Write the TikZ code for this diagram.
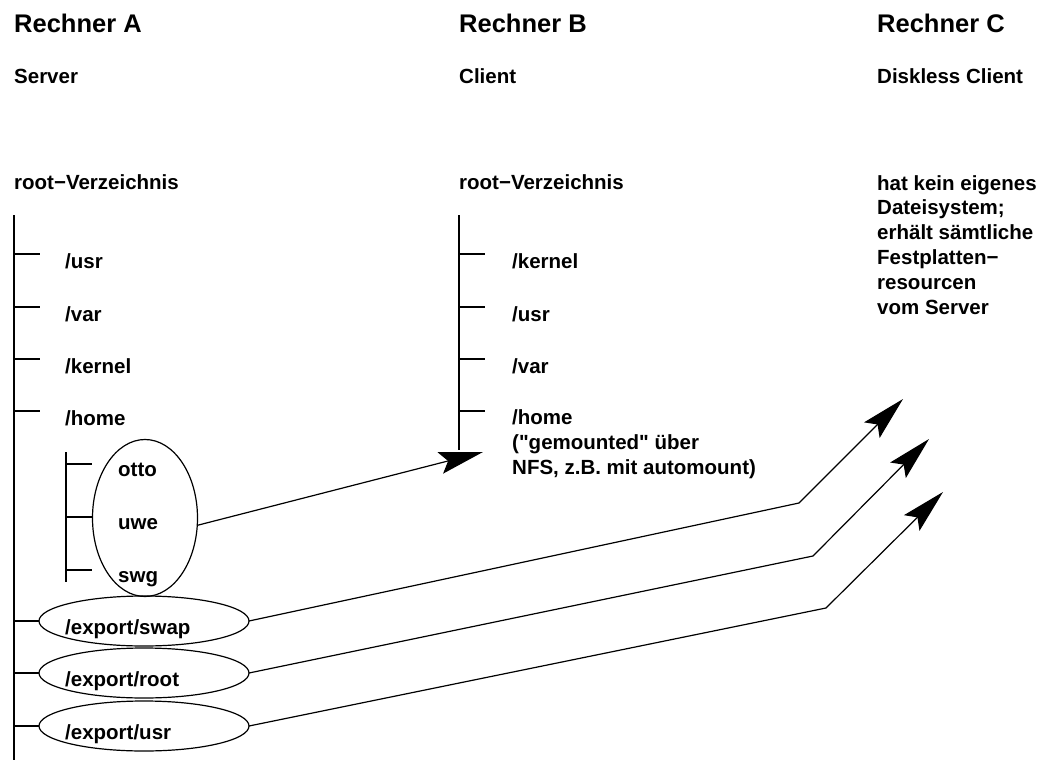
\documentclass[tikz,border=0pt]{standalone}
\usepackage{fontspec}
\setmainfont{Liberation Sans}[Ligatures=TeXOff, UprightFont={* Bold}, BoldFont={* Bold}]
\usetikzlibrary{arrows.meta,shapes.geometric}

\tikzset{
	head/.style={anchor=base west, inner sep=0pt, font=\fontsize{25.5}{30}\selectfont},
	lbl/.style={anchor=base west, inner sep=0pt, font=\fontsize{20.5}{24.8}\selectfont, align=left},
	ell/.style={ellipse, draw, line width=1.2pt, inner sep=0pt, outer sep=0pt},
	tick/.style={line width=1.2pt},
	stem/.style={line width=2.8pt},
	link/.style={line width=1.2pt, -{Stealth[length=44pt, width=22pt, inset=8pt]}}
}

\begin{document}
\begin{tikzpicture}[x=1pt, y=-1pt]
		%%%%% START %%%%%
		\useasboundingbox (0, 0) rectangle (1050, 760);
		
		% headings
		\node[head] (hA) at (14, 33) {Rechner A};
		\node[head] (hB) at (459, 33) {Rechner B};
		\node[head] (hC) at (877, 33) {Rechner C};
		\node[lbl] (rA) at (14, 84) {Server};
		\node[lbl] (rB) at (459, 84) {Client};
		\node[lbl] (rC) at (877, 84) {Diskless Client};
		\node[lbl] (rootA) at (14, 189) {root−Verzeichnis};
		\node[lbl] (rootB) at (459, 189) {root−Verzeichnis};
		% base = letzte Zeile
		\node[lbl] (noteC) at (877, 314) {hat kein eigenes\\Dateisystem;\\erhält sämtliche\\Festplatten−\\resourcen\\vom Server};
		
		% Rechner A
		\draw[stem] (14, 215) -- (14, 762);
		\foreach \y/\t in {254/usr, 307/var, 359/kernel, 411/home} {
			\draw[tick] (14, \y) -- (40, \y);
			\node[lbl] (a-\t) at (65, \y+14) {/\t};
		}
		
		\draw[tick] (66, 452) -- (66, 582);
		\foreach \y/\t in {464/otto, 517/uwe, 570/swg} {
			\draw[tick] (66, \y) -- (92, \y);
			\node[lbl] (u-\t) at (118, \y+12) {\t};
		}
		\node[ell, minimum width=105, minimum height=157] (users) at (145, 518) {};
		
		\foreach \y/\t in {621/swap, 673/root, 726/usr} {
			\draw[tick] (14, \y) -- (39, \y);
			\node[ell, minimum width=210, minimum height=50] (e-\t) at (144, \y) {};
			\node[lbl] at (65, \y+13) {/export/\t};
		}
		
		% Rechner B
		\draw[stem] (459, 215) -- (459, 450);
		\foreach \y/\t in {254/kernel, 307/usr, 359/var} {
			\draw[tick] (459, \y) -- (485, \y);
			\node[lbl] (b-\t) at (512, \y+14) {/\t};
		}
		\draw[tick] (459, 411) -- (485, 411);
		\node[lbl] (b-home) at (512, 474) {/home\\("gemounted" über\\NFS, z.B. mit automount)};
		
		% Verbindungen
		\coordinate (tipB) at (483, 452);
		\draw[link] (users.-8) -- (tipB);
		
		\coordinate (bend1) at (799, 503);
		\coordinate (tip1) at (903, 399);
		\coordinate (bend2) at (813, 556);
		\coordinate (tip2) at (929, 439);
		\coordinate (bend3) at (826, 608);
		\coordinate (tip3) at (943, 492);
		\draw[link] (e-swap.east) -- (bend1) -- (tip1);
		\draw[link] (e-root.east) -- (bend2) -- (tip2);
		\draw[link] (e-usr.east) -- (bend3) -- (tip3);
		
		%%%%% END %%%%%
	\end{tikzpicture}
\end{document}
